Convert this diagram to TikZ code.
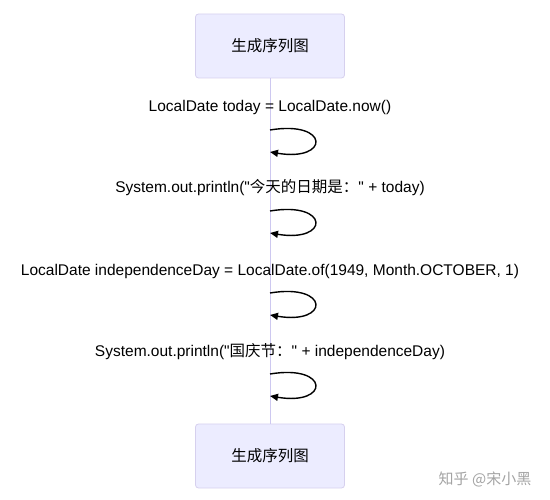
\documentclass[tikz,border=0pt]{standalone}
\usepackage{fontspec}
\setmainfont{Liberation Sans}
\newfontfamily\cjkfont{Noto Sans CJK SC}
\usetikzlibrary{arrows.meta, positioning}
\definecolor{actorfill}{HTML}{ECECFF}
\definecolor{actorline}{HTML}{D6D0EE}
\definecolor{lifeline}{HTML}{CDC8F0}
\definecolor{markgray}{HTML}{A3A3A3}

\begin{document}
\begin{tikzpicture}[
      x=1pt, y=-1pt,
      actor/.style={rectangle, draw=actorline, fill=actorfill, rounded corners=3pt, minimum width=149pt, minimum height=64pt, line width=0.8pt, font=\cjkfont\fontsize{15.5}{18}\selectfont},
      msg/.style={font=\fontsize{15.5}{18}\selectfont, inner sep=0pt},
      selfloop/.style={-{Triangle[length=8pt, width=7pt]}, line width=1.4pt},
      life/.style={draw=lifeline, line width=1pt}
    ]
    \useasboundingbox (0,0) rectangle (550,500);

    % 1. ACTORS
    \node[actor] (actTop) at (270,46) {生成序列图};
    \node[actor] (actBot) at (270,456) {生成序列图};
    \draw[life] (actTop.south) -- (actBot.north);

    % 2. MESSAGES
    \node[msg] (msgToday) at (270,107) {LocalDate today = LocalDate.now()};
    \node[msg] (msgPrintToday) at (270,188) {System.out.println(\textquotedbl{\cjkfont 今天的日期是：}\textquotedbl{} + today)};
    \node[msg] (msgIndep) at (270,271) {LocalDate independenceDay = LocalDate.of(1949, Month.OCTOBER, 1)};
    \node[msg] (msgPrintIndep) at (270,352) {System.out.println(\textquotedbl{\cjkfont 国庆节：}\textquotedbl{} + independenceDay)};

    % 3. SELF CALLS
    \coordinate (loopAin) at (270,130);
    \coordinate (loopAout) at (270,152);
    \coordinate (loopBin) at (270,211);
    \coordinate (loopBout) at (270,233);
    \coordinate (loopCin) at (270,293);
    \coordinate (loopCout) at (270,315);
    \coordinate (loopDin) at (270,374);
    \coordinate (loopDout) at (270,396);
    \draw[selfloop] (loopAin) .. controls +(60,-10) and +(60,10) .. (loopAout);
    \draw[selfloop] (loopBin) .. controls +(60,-10) and +(60,10) .. (loopBout);
    \draw[selfloop] (loopCin) .. controls +(60,-10) and +(60,10) .. (loopCout);
    \draw[selfloop] (loopDin) .. controls +(60,-10) and +(60,10) .. (loopDout);

    % watermark
    \node[font=\cjkfont\fontsize{15}{18}\selectfont, text=markgray] (mark) at (485,479) {知乎 @宋小黑};
\end{tikzpicture}
\end{document}
